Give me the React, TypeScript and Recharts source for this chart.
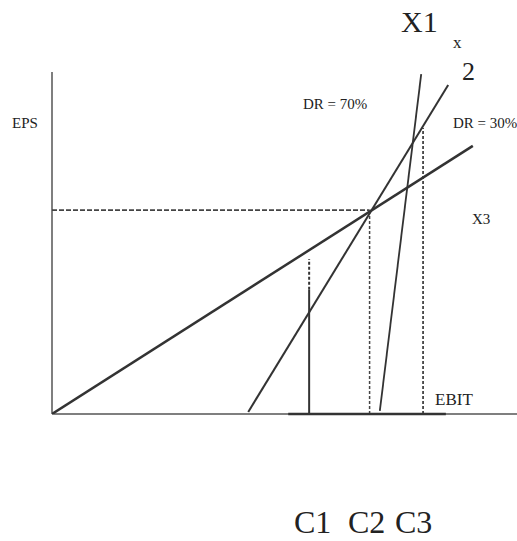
import { ComposedChart, Line, XAxis, YAxis, ReferenceLine } from 'recharts';

// EBIT–EPS break-even diagram (units: 0–100 on both axes)
const dr30Line = [{ x: 0, y: 0 }, { x: 90.5, y: 78.4 }];
const dr70Line = [{ x: 42.2, y: 0.6 }, { x: 85.2, y: 96.2 }];
const x1Line = [{ x: 70.5, y: 0.9 }, { x: 79.4, y: 99.4 }];

const breakEven = { x: 68.3, y: 59.6 };
const c1 = { x: 55.3, dashTop: 45.3, solidTop: 36.3 };
const c3 = { x: 79.8, top: 83.6 };
const baseSegment = [50.8, 84.7];

const INK = '#333';
const GUIDE = '#444';
const AXIS = '#555';
const SERIF = '"Liberation Serif", "DejaVu Serif", serif';

const label = (size: number) => ({ fontFamily: SERIF, fontSize: size, fill: '#222' });

export default function App() {
  return (
    <div style={{ position: 'absolute', left: 0, top: 0, width: 517, height: 541, background: '#fff' }}>
      <ComposedChart width={517} height={541} margin={{ top: 72, right: 0, bottom: 127, left: 52 }}>
        <XAxis type="number" dataKey="x" domain={[0, 100]} allowDataOverflow hide />
        <YAxis type="number" dataKey="y" domain={[0, 100]} allowDataOverflow hide />

        {/* axes */}
        <ReferenceLine segment={[{ x: 0, y: 0 }, { x: 0, y: 100 }]} stroke={AXIS} strokeWidth={1.5} />
        <ReferenceLine segment={[{ x: 0, y: 0 }, { x: 100, y: 0 }]} stroke={AXIS} strokeWidth={1.5} />

        {/* guide lines */}
        <ReferenceLine
          segment={[{ x: 0, y: breakEven.y }, { x: breakEven.x, y: breakEven.y }]}
          stroke={GUIDE}
          strokeWidth={1.8}
          strokeDasharray="5 2"
        />
        <ReferenceLine
          segment={[{ x: breakEven.x, y: 0 }, { x: breakEven.x, y: breakEven.y }]}
          stroke={GUIDE}
          strokeWidth={1.5}
          strokeDasharray="3 2"
        />
        <ReferenceLine
          segment={[{ x: c3.x, y: 0 }, { x: c3.x, y: c3.top }]}
          stroke={GUIDE}
          strokeWidth={1.8}
          strokeDasharray="3 2"
        />
        <ReferenceLine
          segment={[{ x: c1.x, y: c1.solidTop }, { x: c1.x, y: c1.dashTop }]}
          stroke={INK}
          strokeWidth={2}
          strokeDasharray="3 2"
        />
        <ReferenceLine segment={[{ x: c1.x, y: 0 }, { x: c1.x, y: c1.solidTop }]} stroke={INK} strokeWidth={2} />
        <ReferenceLine
          segment={[{ x: baseSegment[0], y: 0 }, { x: baseSegment[1], y: 0 }]}
          stroke={INK}
          strokeWidth={2.5}
        />

        {/* EPS lines */}
        <Line data={dr30Line} dataKey="y" stroke={INK} strokeWidth={2.5} dot={false} isAnimationActive={false} />
        <Line data={dr70Line} dataKey="y" stroke={INK} strokeWidth={2} dot={false} isAnimationActive={false} />
        <Line data={x1Line} dataKey="y" stroke={INK} strokeWidth={1.8} dot={false} isAnimationActive={false} />
      </ComposedChart>

      <svg width={517} height={541} style={{ position: 'absolute', left: 0, top: 0, pointerEvents: 'none' }}>
        <text x={401} y={32} style={label(30)}>X1</text>
        <text x={453} y={48} style={label(17)}>x</text>
        <text x={462} y={80} style={label(26)}>2</text>
        <text x={303} y={109} style={label(15)}>DR = 70%</text>
        <text x={12} y={128} style={label(15)}>EPS</text>
        <text x={453} y={128} style={label(15)}>DR = 30%</text>
        <text x={472} y={224} style={label(15)}>X3</text>
        <text x={435} y={405} style={label(17)}>EBIT</text>
        <text x={294} y={533} style={label(32)}>C1</text>
        <text x={348} y={533} style={label(32)}>C2</text>
        <text x={395} y={533} style={label(32)}>C3</text>
      </svg>
    </div>
  );
}
